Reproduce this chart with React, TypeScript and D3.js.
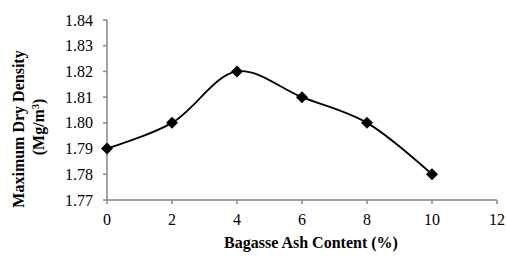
import React from "react";
import * as d3 from "d3";

const ashContent = [0, 2, 4, 6, 8, 10];
const dryDensity = [1.79, 1.8, 1.82, 1.81, 1.8, 1.78];
const xTicks = [0, 2, 4, 6, 8, 10, 12];
const yTicks = [1.77, 1.78, 1.79, 1.8, 1.81, 1.82, 1.83, 1.84];

export default function App() {
  const W = 506, H = 260;
  const x = d3.scaleLinear().domain([0, 12]).range([107, 497]);
  const y = d3.scaleLinear().domain([1.77, 1.84]).range([200, 20]);
  const pts: [number, number][] = ashContent.map((d, i) => [x(d), y(dryDensity[i])]);
  const line = d3.line().curve(d3.curveCatmullRom.alpha(0.5))(pts) || "";
  const font = "Liberation Serif, Times New Roman, Times, serif";
  const axisColor = "#868686";
  const ts = { fontFamily: font };
  return (
    <svg width={W} height={H} style={{ position: "absolute", left: 0, top: 0, background: "#fff" }}>
      <line x1={x(0)} x2={x(0)} y1={y(1.84)} y2={y(1.77)} stroke={axisColor} strokeWidth={1.5} />
      <line x1={x(0)} x2={x(12)} y1={y(1.77)} y2={y(1.77)} stroke={axisColor} strokeWidth={1.5} />
      {yTicks.map((t) => (
        <g key={"y" + t}>
          <line x1={x(0) - 4} x2={x(0)} y1={y(t)} y2={y(t)} stroke={axisColor} strokeWidth={1.5} />
          <text style={ts} x={x(0) - 14} y={y(t)} dy="0.35em" textAnchor="end" fontSize={16}>{t.toFixed(2)}</text>
        </g>
      ))}
      {xTicks.map((t) => (
        <g key={"x" + t}>
          <line x1={x(t)} x2={x(t)} y1={y(1.77)} y2={y(1.77) + 4} stroke={axisColor} strokeWidth={1.5} />
          <text style={ts} x={x(t)} y={y(1.77) + 19} dy="0.35em" textAnchor="middle" fontSize={16}>{t}</text>
        </g>
      ))}
      <path d={line} fill="none" stroke="#000" strokeWidth={1.8} />
      {pts.map(([px, py], i) => (
        <path key={i} d={`M${px},${py - 6}L${px + 6},${py}L${px},${py + 6}L${px - 6},${py}Z`} fill="#000" />
      ))}
      <text style={ts} x={311} y={248} textAnchor="middle" fontSize={16} fontWeight="bold">Bagasse Ash Content (%)</text>
      <g transform="translate(18,129) rotate(-90)">
        <text style={ts} x={0} y={0} dy="0.35em" textAnchor="middle" fontSize={16} fontWeight="bold">Maximum Dry Density</text>
      </g>
      <g transform="translate(38,127) rotate(-90)">
        <text style={ts} x={0} y={0} dy="0.35em" textAnchor="middle" fontSize={16} fontWeight="bold">
          (Mg/m<tspan baselineShift="super" fontSize={10}>3</tspan>)
        </text>
      </g>
    </svg>
  );
}
